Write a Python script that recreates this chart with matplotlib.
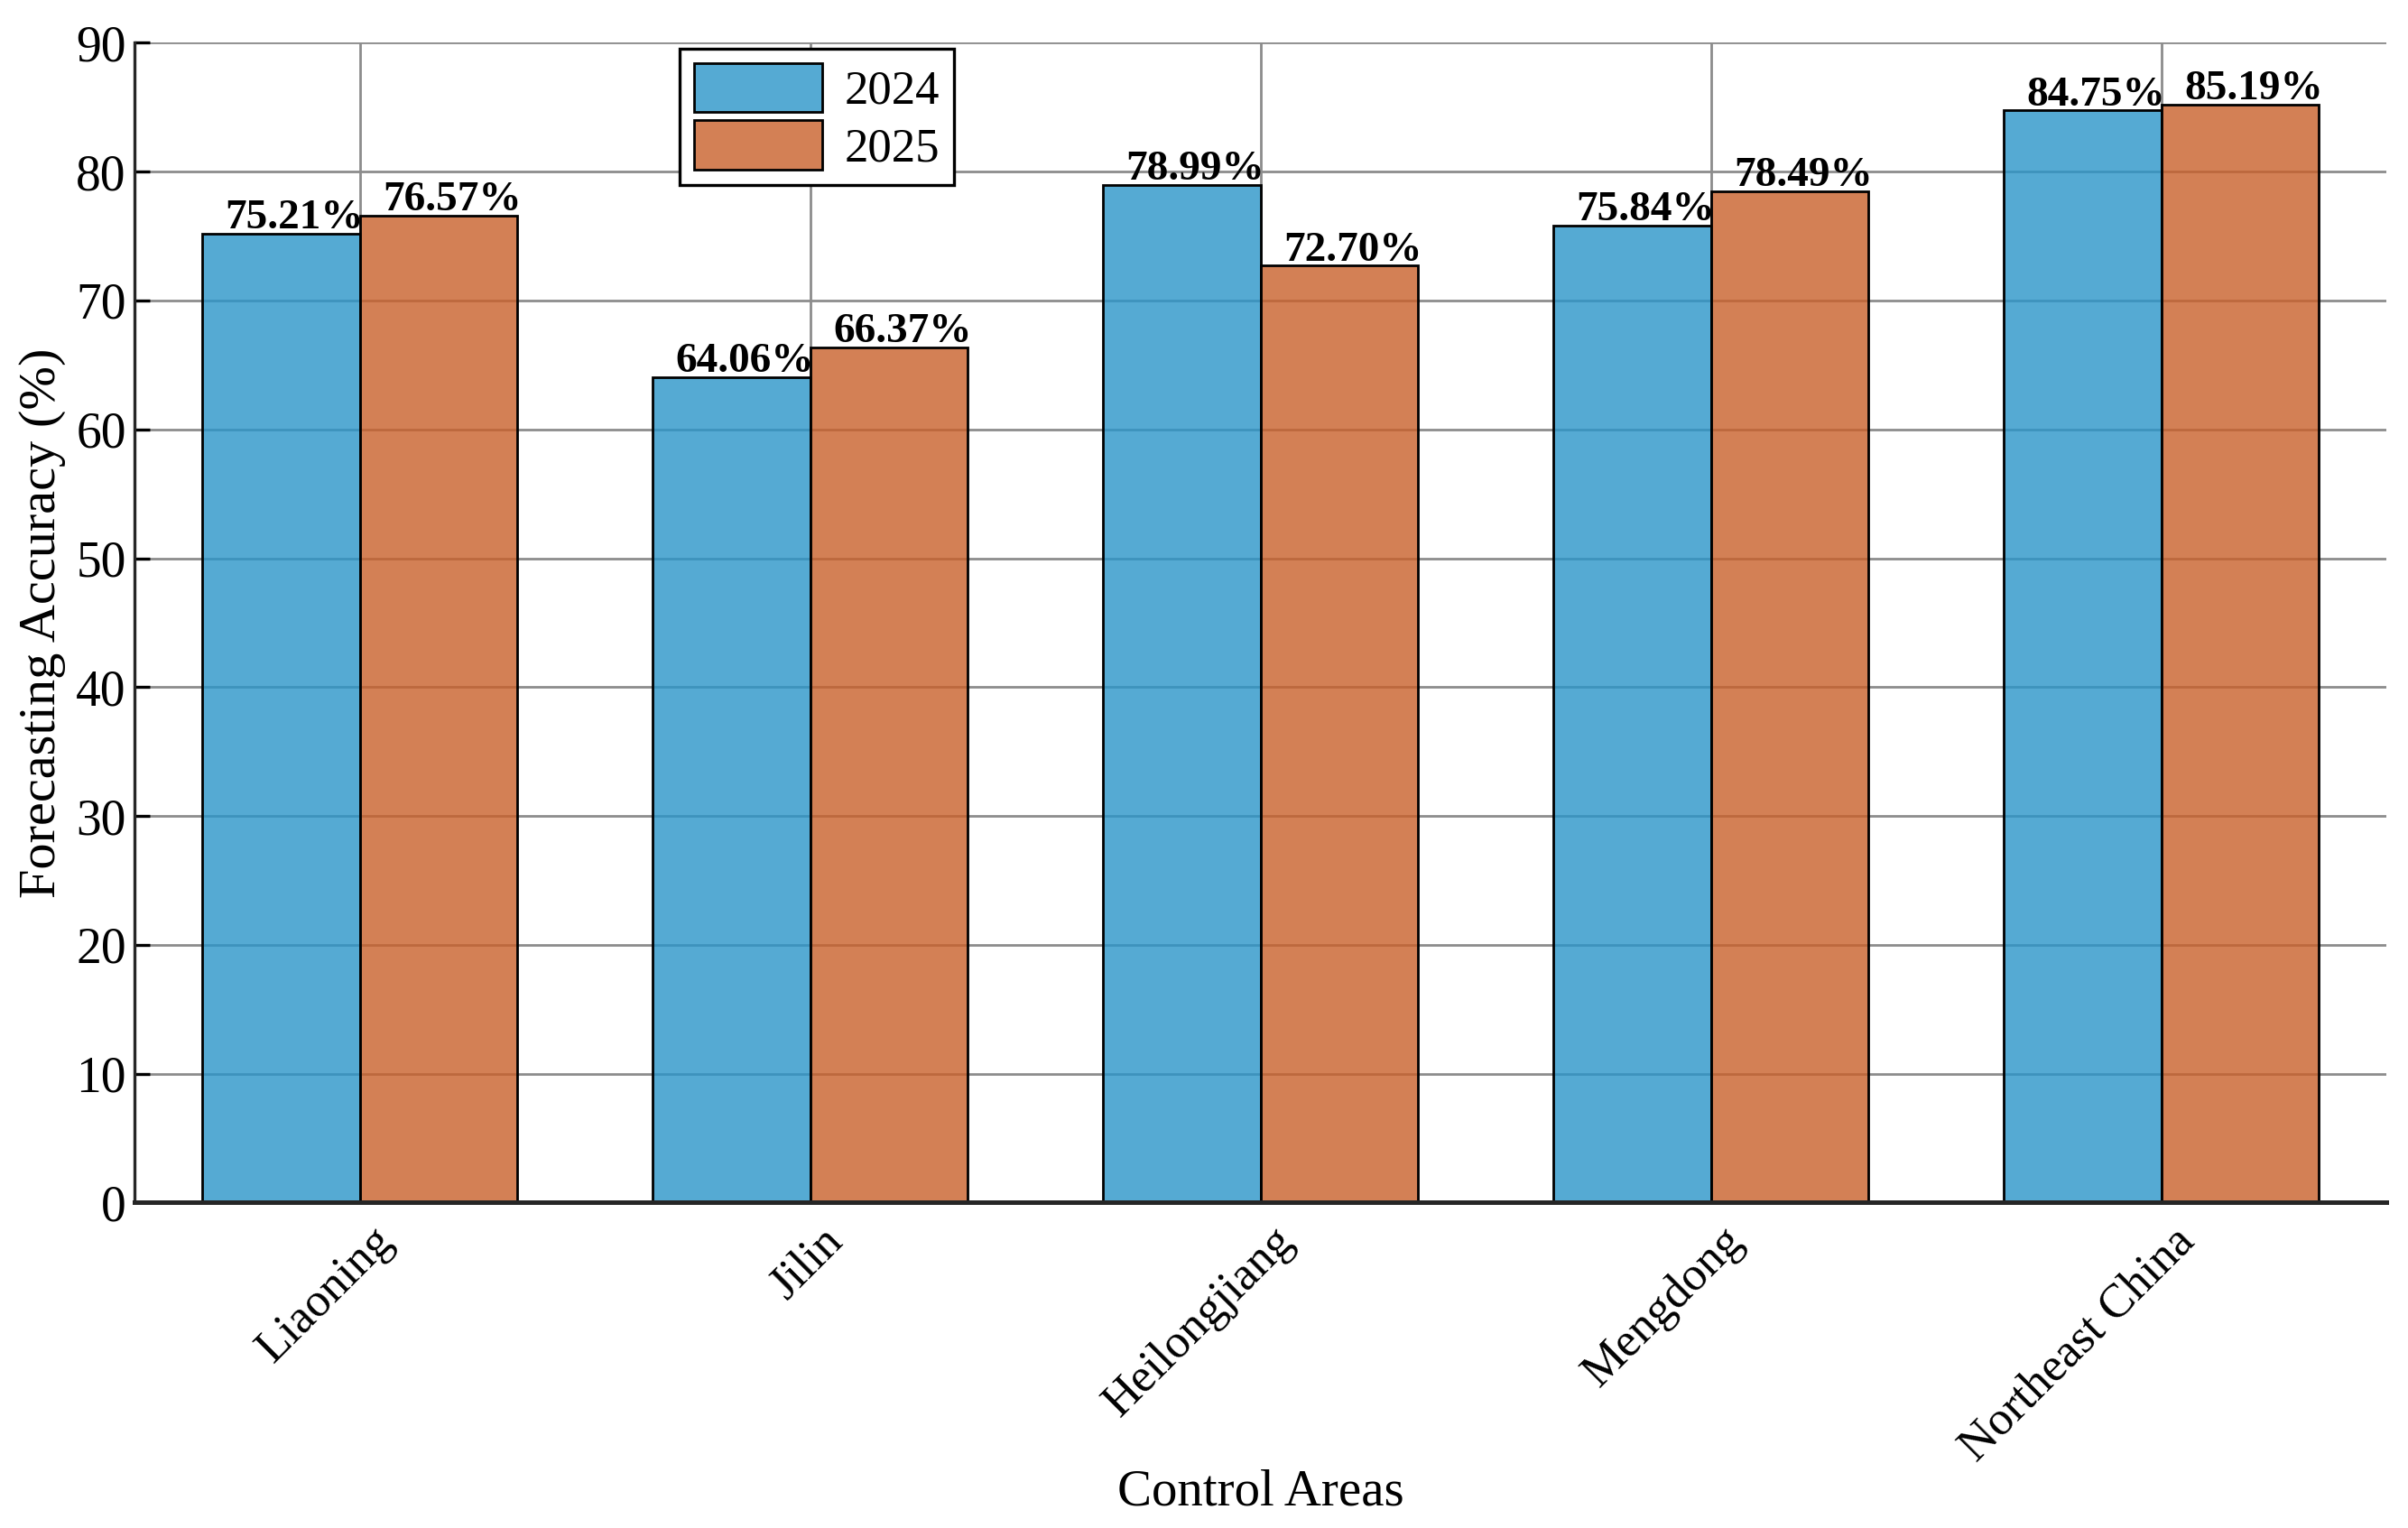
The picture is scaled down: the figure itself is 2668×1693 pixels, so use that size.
import numpy as np
import matplotlib.pyplot as plt
import matplotlib.transforms as mtransforms

areas = ['Liaoning', 'Jilin', 'Heilongjiang', 'Mengdong', 'Northeast China']
acc_2024 = [75.21, 64.06, 78.99, 75.84, 84.75]
acc_2025 = [76.57, 66.37, 72.70, 78.49, 85.19]
years = ['2024', '2025']

plt.rcParams['font.family'] = ['Liberation Serif', 'DejaVu Serif']
plt.rcParams['font.size'] = 20

fig, ax = plt.subplots(figsize=(13.34, 8.465), dpi=200)
fig.subplots_adjust(left=0.056, right=0.991, top=0.972, bottom=0.213)

x = np.arange(len(areas))
w = 0.35
blue = (0.165, 0.584, 0.788, 0.8)
orange = (0.788, 0.376, 0.165, 0.8)

b1 = ax.bar(x - w / 2, acc_2024, w, facecolor=blue, edgecolor='black', linewidth=1.0, label=years[0])
b2 = ax.bar(x + w / 2, acc_2025, w, facecolor=orange, edgecolor='black', linewidth=1.0, label=years[1])

for bars, vals in [(b1, acc_2024), (b2, acc_2025)]:
    for rect, v in zip(bars, vals):
        ax.text(rect.get_x() + rect.get_width() / 2 + 0.03, v - 0.3, f'{v:.2f}%',
                ha='center', va='bottom', fontweight='bold', fontsize=17)

ax.set_xlim(-0.5, 4.5)
ax.set_ylim(0, 90)
ax.set_yticks(np.arange(0, 91, 10))
ax.set_xticks(x)

ax.set_axisbelow(True)
ax.grid(True, color='#8c8c8c', linewidth=1.0)

ax.spines['top'].set_visible(False)
ax.spines['right'].set_visible(False)
ax.spines['left'].set_linewidth(1.2)
ax.spines['bottom'].set_linewidth(1.8)
ax.spines['left'].set_color('#262626')
ax.spines['bottom'].set_color('#262626')
ax.tick_params(axis='y', direction='in', length=6, width=1.2, labelsize=20)
ax.tick_params(axis='x', length=0, pad=8, labelsize=19)

ax.set_xticklabels(areas, rotation=45, ha='right', va='top', rotation_mode='anchor')
# nudge rotated labels a little to the right, like the original
offset = mtransforms.ScaledTranslation(0.06, 0.02, fig.dpi_scale_trans)
for lbl in ax.get_xticklabels():
    lbl.set_transform(lbl.get_transform() + offset)

ax.set_ylabel('Forecasting Accuracy (%)', fontsize=21)
ax.set_xlabel('Control Areas', fontsize=20.5, labelpad=0)

leg = ax.legend(loc='upper left', bbox_to_anchor=(0.242, 0.995), fancybox=False,
                edgecolor='black', framealpha=1, borderaxespad=0, handlelength=2.7,
                handleheight=1.2, labelspacing=0.15, borderpad=0.3, handletextpad=0.45,
                fontsize=19)
leg.get_frame().set_linewidth(1.2)

fig.savefig('out.png', dpi=200)
